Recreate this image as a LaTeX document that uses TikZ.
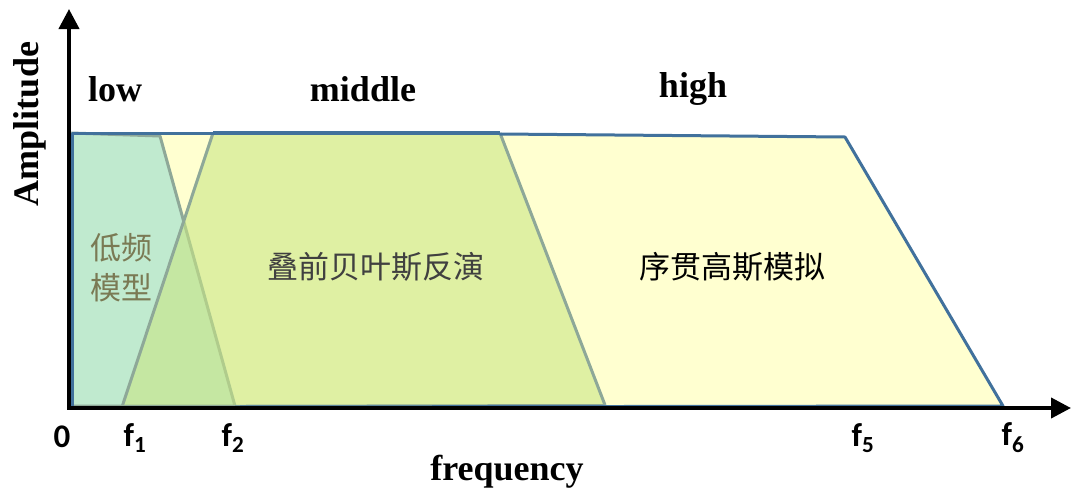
\documentclass[tikz,border=0pt]{standalone}
\usepackage{fontspec}
\setmainfont{Liberation Serif}
\newfontfamily\calfont{Carlito}
\newfontfamily\cjk{Noto Sans CJK SC}
\usetikzlibrary{arrows.meta}
\definecolor{hiyellow}{RGB}{255,255,208}
\definecolor{lowmint}{RGB}{192,234,207}
\definecolor{midgreen}{RGB}{201,230,132}
\definecolor{blueline}{RGB}{65,113,156}
\definecolor{grayline}{RGB}{142,168,152}
\definecolor{olive}{RGB}{122,122,84}
\definecolor{darktext}{RGB}{64,64,64}
\tikzset{
  band/.style={font=\fontsize{36}{40}\selectfont\bfseries},
  axlabel/.style={font=\fontsize{36}{40}\selectfont\bfseries},
  tick/.style={font=\calfont\fontsize{33}{36}\selectfont\bfseries},
  cn/.style={font=\cjk\fontsize{31}{40}\selectfont},
  axis/.style={line width=4pt,-{Triangle[length=20pt,width=20pt]}},
}
\begin{document}
\begin{tikzpicture}[x=1pt,y=-1pt]
\useasboundingbox (0,0) rectangle (1071,493);
% high band
\fill[hiyellow] (71,133) -- (845,137) -- (1003,406) -- (71,407) -- cycle;
% low band
\fill[lowmint] (71,133) -- (160,136) -- (235,406) -- (71,406) -- cycle;
\draw[grayline,line width=3pt,line join=round] (71,133) -- (160,136) -- (235,406) -- (71,406);
% middle band
\fill[midgreen,fill opacity=0.59] (122,407) -- (213,133) -- (500,133) -- (605,405) -- cycle;
\draw[grayline,line width=3pt,line join=round] (122,407) -- (213,133);
\draw[grayline,line width=3pt,line join=round] (500,133) -- (605,405);
\draw[grayline,line width=3pt] (122,406.5) -- (605,405.5);
% blue outline of high band
\draw[blueline,line width=3pt,line join=round] (72,407) -- (72,133) -- (213,133);
\draw[blueline,line width=4.5pt] (213,133) -- (500,133);
\draw[blueline,line width=3pt,line join=round] (500,134) -- (845,137) -- (1003,406) -- (235,407);
% axes
\coordinate (O) at (69,408);
\coordinate (ytip) at (69,9);
\coordinate (xtip) at (1071,408);
\draw[axis] (O) -- (ytip);
\draw[axis] (67,408) -- (xtip);
% labels
\node[band] (low) at (115,89) {low};
\node[band] (mid) at (363,89) {middle};
\node[band] (high) at (693,89) {high};
\node[axlabel,rotate=90] (amp) at (30,124) {Amplitude};
\node[axlabel] (freq) at (507,472) {frequency};
\node[tick] (t0) at (62,437) {0};
\node[tick] (t1) at (135,438) {f\textsubscript{1}};
\node[tick] (t2) at (233,438) {f\textsubscript{2}};
\node[tick] (t5) at (863,438) {f\textsubscript{5}};
\node[tick] (t6) at (1013,438) {f\textsubscript{6}};
\node[cn,text=olive,align=center] (lowtxt) at (121,268) {低频\\模型};
\node[cn,text=darktext] (midtxt) at (376,267) {叠前贝叶斯反演};
\node[cn,text=black] (hightxt) at (732,267) {序贯高斯模拟};
\end{tikzpicture}
\end{document}
